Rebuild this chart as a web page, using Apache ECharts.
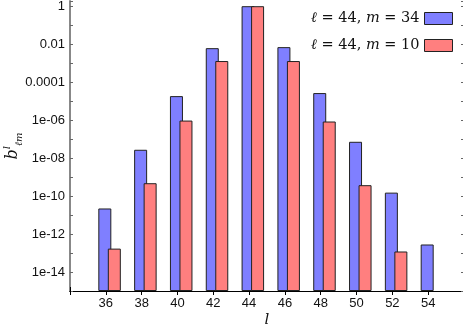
<!DOCTYPE html>
<html>
<head>
<meta charset="UTF-8">
<title>b_lm</title>
<script src="https://cdn.jsdelivr.net/npm/echarts@6/dist/echarts.min.js"></script>
<style>
  html, body { margin: 0; padding: 0; background: #fff; }
  #chart { width: 463px; height: 329px; }
</style>
</head>
<body>
<div id="chart"></div>
<script>
// l values on the x axis
const lValues = [36, 38, 40, 42, 44, 46, 48, 50, 52, 54];
// l = 44, m = 34
const blueVals = [2.2e-11, 2.7e-8, 1.8e-5, 6.0e-3, 0.97, 6.8e-3, 2.6e-5, 7.1e-8, 1.5e-10, 2.8e-13];
// l = 44, m = 10 (nothing at l = 54)
const redVals = [1.7e-13, 4.7e-10, 9.3e-7, 1.26e-3, 0.97, 1.26e-3, 8.3e-7, 3.7e-10, 1.2e-13, null];
const xTickLabels = ['36', '38', '40', '42', '44', '46', '48', '50', '52', '54'];
const yTickExps = [0, -2, -4, -6, -8, -10, -12, -14];
const yTickLabels = ['1', '0.01', '0.0001', '1e-06', '1e-08', '1e-10', '1e-12', '1e-14'];

// log10 values shifted so that 1e-15 sits on the axis bottom
const floorExp = -15;
const topExp = 0.26;
const toAxis = v => (v == null ? null : Math.log10(v) - floorExp);

const pairs = vals => lValues.map((l, i) => vals[i] == null ? null : [l, toAxis(vals[i])]).filter(d => d);

const sans = 'Liberation Sans, Arial, sans-serif';
const serif = 'DejaVu Serif, serif';

const xLabel = v => (xTickLabels.indexOf(String(v)) >= 0 ? String(v) : '');
const yLabel = v => {
  if (Math.abs(v - Math.round(v)) > 1e-6) return '';
  const i = yTickExps.indexOf(Math.round(v) + floorExp);
  return i >= 0 ? yTickLabels[i] : '';
};

const chart = echarts.init(document.getElementById('chart'));
chart.setOption({
  animation: false,
  grid: { left: 70, top: 1, right: -1, bottom: 38, outerBoundsMode: 'none', containLabel: false },
  legend: {
    data: ['m34', 'm10'],
    orient: 'vertical',
    right: 10,
    top: 11,
    padding: 0,
    align: 'right',
    icon: 'rect',
    itemWidth: 28,
    itemHeight: 12,
    itemGap: 12,
    itemStyle: { borderColor: '#222', borderWidth: 1 },
    formatter: name => name === 'm34'
      ? '{i|ℓ} = 44, {i|m} = 34'
      : '{i|ℓ} = 44, {i|m} = 10',
    textStyle: {
      fontFamily: serif, fontSize: 14.5, color: '#111',
      rich: { i: { fontFamily: serif, fontStyle: 'italic', fontSize: 14.5, color: '#111' } }
    }
  },
  xAxis: [{
    type: 'value', min: 34, max: 56, interval: 2,
    name: 'l', nameLocation: 'middle', nameGap: 22, nameMoveOverlap: false,
    nameTextStyle: { fontFamily: serif, fontStyle: 'italic', fontSize: 15, color: '#111' },
    axisLine: { lineStyle: { color: '#000', width: 1 } },
    axisTick: { inside: true, length: 4, lineStyle: { color: '#000' } },
    axisLabel: { formatter: xLabel, fontFamily: sans, fontSize: 13, color: '#111', margin: 6 },
    splitLine: { show: false }
  }, {
    type: 'value', min: 34, max: 56, interval: 2, position: 'top',
    axisLine: { show: true, lineStyle: { color: '#000', width: 1 } },
    axisTick: { inside: true, length: 4, lineStyle: { color: '#000' } },
    axisLabel: { show: false },
    splitLine: { show: false }
  }],
  yAxis: [{
    type: 'value', min: 0, max: topExp - floorExp, interval: 1,
    name: '{b|b}{sup|l}{sub|ℓm}',
    nameLocation: 'middle', nameGap: 46, nameRotate: 90, nameMoveOverlap: false,
    nameTextStyle: {
      rich: {
        b: { fontFamily: serif, fontStyle: 'italic', fontSize: 16, color: '#111', lineHeight: 22 },
        sup: { fontFamily: serif, fontStyle: 'italic', fontSize: 10, color: '#111', verticalAlign: 'top', lineHeight: 22 },
        sub: { fontFamily: serif, fontStyle: 'italic', fontSize: 10, color: '#111', verticalAlign: 'bottom', lineHeight: 22 }
      }
    },
    axisLine: { show: true, lineStyle: { color: '#888', width: 2 } },
    axisTick: { inside: true, length: 3, lineStyle: { color: '#666' } },
    axisLabel: { formatter: yLabel, fontFamily: sans, fontSize: 13, color: '#111', margin: 5,
                 showMinLabel: true, showMaxLabel: true },
    splitLine: { show: false }
  }, {
    type: 'value', min: 0, max: topExp - floorExp, interval: 1, position: 'right',
    axisLine: { show: true, lineStyle: { color: '#000', width: 1 } },
    axisTick: { inside: true, length: 3, lineStyle: { color: '#666' } },
    axisLabel: { show: false },
    splitLine: { show: false }
  }],
  series: [{
    // empty spacer that shifts the bar pair to the right of each tick
    name: 'spacer', type: 'bar', barWidth: 10.26, barGap: '-26.9%',
    data: lValues.map(l => [l, 0]),
    itemStyle: { color: 'rgba(0,0,0,0)' }, silent: true
  }, {
    name: 'm34', type: 'bar', barWidth: 13, barGap: '-26.9%',
    data: pairs(blueVals),
    itemStyle: { color: '#7f7fff', borderColor: '#222', borderWidth: 1 }
  }, {
    name: 'm10', type: 'bar', barWidth: 13, barGap: '-26.9%',
    data: pairs(redVals),
    itemStyle: { color: '#ff7f7f', borderColor: '#222', borderWidth: 1 }
  }]
});
</script>
</body>
</html>
